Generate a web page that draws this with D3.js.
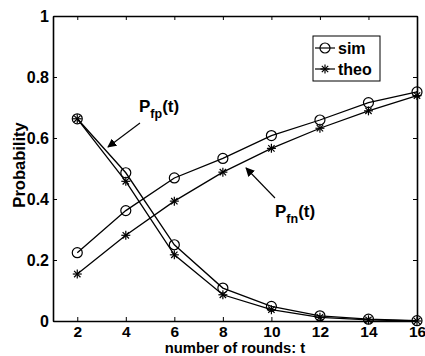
<!DOCTYPE html>
<html>
<head>
<meta charset="utf-8">
<script src="https://cdn.jsdelivr.net/npm/d3@7"></script>
<style>
  body { margin: 0; background: #fff; }
  text { font-family: "Liberation Sans", Arial, sans-serif; font-weight: bold; }
</style>
</head>
<body>
<div id="data-viz"></div>
<script>
// data
var rounds = [2, 4, 6, 8, 10, 12, 14, 16];
var fpSim  = [0.663, 0.486, 0.250, 0.108, 0.048, 0.017, 0.006, 0.001];
var fpTheo = [0.663, 0.458, 0.217, 0.086, 0.037, 0.012, 0.004, 0.000];
var fnSim  = [0.224, 0.362, 0.469, 0.533, 0.608, 0.659, 0.716, 0.751];
var fnTheo = [0.154, 0.281, 0.393, 0.488, 0.566, 0.632, 0.689, 0.739];
var yTicks = [0, 0.2, 0.4, 0.6, 0.8, 1];
var yTickLabels = ["0", "0.2", "0.4", "0.6", "0.8", "1"];

var margin = {top: 16, right: 8, bottom: 35, left: 53},
    width = 425 - margin.left - margin.right,
    height = 356 - margin.top - margin.bottom;

var svg = d3.select("#data-viz")
  .append("svg")
    .attr("width", 425)
    .attr("height", 356)
  .append("g")
    .attr("transform", "translate(" + margin.left + "," + margin.top + ")");

var x = d3.scaleLinear().domain([1, 16]).range([0, width]);
var y = d3.scaleLinear().domain([0, 1]).range([height, 0]);

// axes (ticks pointing inward, box style)
var xAxis = svg.append("g")
  .attr("transform", "translate(0," + height + ")")
  .call(d3.axisBottom(x).tickValues(rounds).tickSizeInner(-4).tickSizeOuter(0).tickPadding(4.5));
svg.append("g")
  .call(d3.axisTop(x).tickValues(rounds).tickSizeInner(-4).tickSizeOuter(0).tickFormat(""));
var yAxis = svg.append("g")
  .call(d3.axisLeft(y).tickValues(yTicks).tickSizeInner(-4).tickSizeOuter(0).tickPadding(4)
    .tickFormat(function(d, i) { return yTickLabels[i]; }));
svg.append("g")
  .attr("transform", "translate(" + width + ",0)")
  .call(d3.axisRight(y).tickValues(yTicks).tickSizeInner(-4).tickSizeOuter(0).tickFormat(""));

svg.selectAll(".domain").attr("stroke", "#000").attr("stroke-width", 1.6);
svg.selectAll(".tick line").attr("stroke", "#000").attr("stroke-width", 1);
svg.selectAll(".tick text")
  .style("font-weight", "bold")
  .style("font-family", "Liberation Sans, Arial, sans-serif")
  .attr("fill", "#000");
xAxis.selectAll(".tick text").style("font-size", "15.5px");
yAxis.selectAll(".tick text").style("font-size", "16px");

// axis labels
svg.append("text")
  .attr("x", 235 - margin.left)
  .attr("y", 353 - margin.top)
  .attr("text-anchor", "middle")
  .style("font-size", "14.8px")
  .text("number of rounds: t");

svg.append("text")
  .attr("transform", "translate(" + (25 - margin.left) + "," + (165 - margin.top) + ") rotate(-90)")
  .attr("text-anchor", "middle")
  .style("font-size", "16.5px")
  .text("Probability");

// lines
var line = d3.line()
  .x(function(d, i) { return x(rounds[i]); })
  .y(function(d) { return y(d); });

var series = [
  {vals: fpSim, mark: "circle"},
  {vals: fpTheo, mark: "star"},
  {vals: fnSim, mark: "circle"},
  {vals: fnTheo, mark: "star"}
];

function drawMark(g, mark, cx, cy) {
  if (mark === "circle") {
    g.append("circle")
      .attr("cx", cx).attr("cy", cy).attr("r", 5)
      .attr("fill", "none").attr("stroke", "#000").attr("stroke-width", 1.2);
  } else {
    var r = 4.5;
    [0, 45, 90, 135].forEach(function(a) {
      var rad = a * Math.PI / 180;
      g.append("line")
        .attr("x1", cx - r * Math.cos(rad)).attr("y1", cy - r * Math.sin(rad))
        .attr("x2", cx + r * Math.cos(rad)).attr("y2", cy + r * Math.sin(rad))
        .attr("stroke", "#000").attr("stroke-width", 1.2);
    });
  }
}

series.forEach(function(s) {
  svg.append("path")
    .datum(s.vals)
    .attr("fill", "none")
    .attr("stroke", "#000")
    .attr("stroke-width", 1.3)
    .attr("d", line);
  var g = svg.append("g");
  s.vals.forEach(function(v, i) { drawMark(g, s.mark, x(rounds[i]), y(v)); });
});

// arrow marker
svg.append("defs").append("marker")
  .attr("id", "arrow")
  .attr("viewBox", "0 0 10 10")
  .attr("refX", 9).attr("refY", 5)
  .attr("markerWidth", 9).attr("markerHeight", 9)
  .attr("markerUnits", "userSpaceOnUse")
  .attr("orient", "auto")
  .append("path")
    .attr("d", "M0,0 L10,5 L0,10 Z")
    .attr("fill", "#000");

// annotations (in pixel space of the plot group)
function label(tx, ty, sub) {
  var t = svg.append("text").attr("x", tx).attr("y", ty).style("font-size", "17px");
  t.append("tspan").text("P");
  t.append("tspan").attr("dy", 6).style("font-size", "12.5px").text(sub);
  t.append("tspan").attr("dy", -6).text("(t)");
}
label(139 - margin.left, 111.5 - margin.top, "fp");
svg.append("line")
  .attr("x1", 140 - margin.left).attr("y1", 123 - margin.top)
  .attr("x2", 108 - margin.left).attr("y2", 147 - margin.top)
  .attr("stroke", "#000").attr("stroke-width", 1.1)
  .attr("marker-end", "url(#arrow)");

label(275 - margin.left, 217 - margin.top, "fn");
svg.append("line")
  .attr("x1", 275 - margin.left).attr("y1", 198 - margin.top)
  .attr("x2", 246 - margin.left).attr("y2", 168 - margin.top)
  .attr("stroke", "#000").attr("stroke-width", 1.1)
  .attr("marker-end", "url(#arrow)");

// legend
var lg = svg.append("g").attr("transform", "translate(" + (313 - margin.left) + "," + (36 - margin.top) + ")");
lg.append("rect")
  .attr("width", 67).attr("height", 45)
  .attr("fill", "#fff").attr("stroke", "#000").attr("stroke-width", 1);
[{name: "sim", mark: "circle", yy: 12}, {name: "theo", mark: "star", yy: 33}].forEach(function(e) {
  lg.append("line")
    .attr("x1", 2).attr("x2", 22).attr("y1", e.yy).attr("y2", e.yy)
    .attr("stroke", "#000").attr("stroke-width", 1.2);
  drawMark(lg, e.mark, 12, e.yy);
  lg.append("text")
    .attr("x", 25).attr("y", e.yy + 6)
    .style("font-size", "16px")
    .text(e.name);
});
</script>
</body>
</html>
